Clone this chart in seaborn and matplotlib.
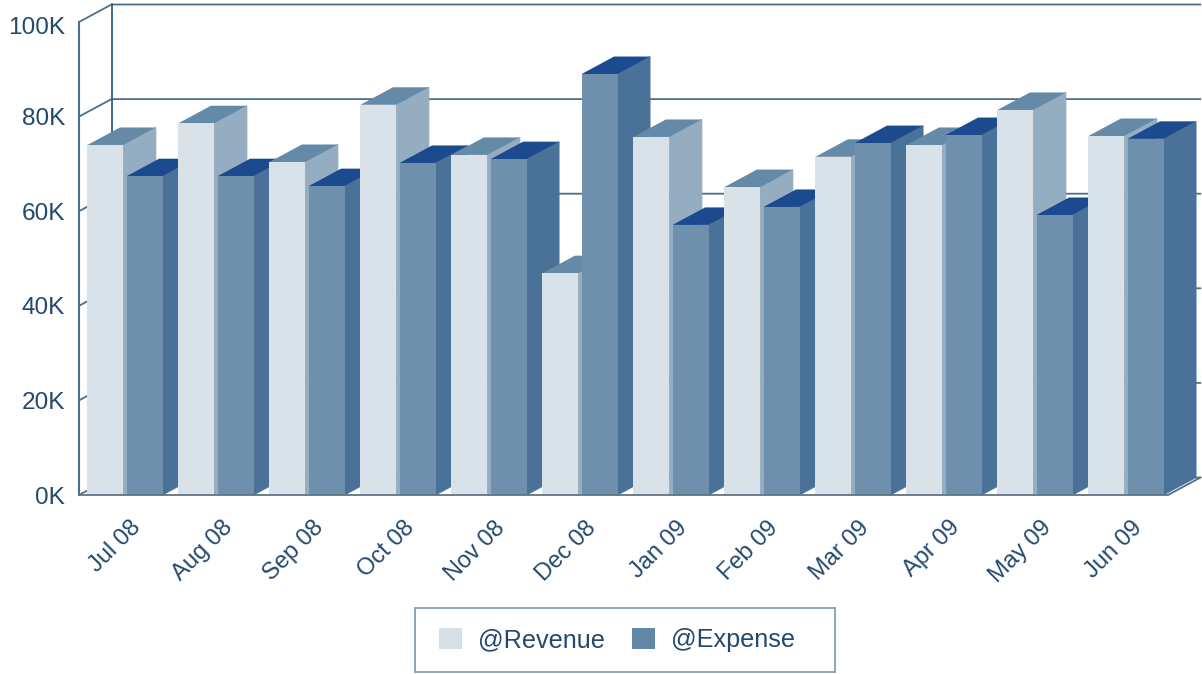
import pandas as pd
import matplotlib
matplotlib.use('Agg')
import matplotlib.pyplot as plt
from matplotlib.patches import Polygon, Rectangle
from matplotlib.transforms import ScaledTranslation
import seaborn as sns

# --- Data ---
months = ['Jul 08', 'Aug 08', 'Sep 08', 'Oct 08', 'Nov 08', 'Dec 08',
          'Jan 09', 'Feb 09', 'Mar 09', 'Apr 09', 'May 09', 'Jun 09']
revenue = [74000, 78600, 70400, 82500, 71900, 46900,
           75700, 65100, 71500, 74000, 81400, 75900]
expense = [67400, 67400, 65300, 70200, 71000, 89000,
           57100, 60900, 74400, 76100, 59200, 75300]
y_ticks = [0, 20000, 40000, 60000, 80000, 100000]
y_labels = ['0K', '20K', '40K', '60K', '80K', '100K']

# --- Style ---
TEXT = '#24496d'
WALL = '#4a6f8f'
REV_COLORS = {'front': '#d9e2e9', 'side': '#95adc0', 'top': '#648aa8'}
EXP_COLORS = {'front': '#6f90ad', 'side': '#4a7298', 'top': '#1c4a8f'}
W, H = 1202, 674
PX_PER_CAT = 91.0
PX_PER_VAL = 473.0 / 100000
DEPTH_X = 32.5 / PX_PER_CAT
DEPTH_Y = 17.5 / PX_PER_VAL

sns.set_theme(style='white')
plt.rcParams['font.family'] = ['Liberation Sans', 'DejaVu Sans']

df = pd.DataFrame({'month': months, '@Revenue': revenue, '@Expense': expense})
long_df = df.melt(id_vars='month', var_name='series', value_name='value')

fig = plt.figure(figsize=(W / 100, H / 100), dpi=100)
# plot box goes from the front floor corner to the 100K tick
ax = fig.add_axes([79 / W, 1 - 495 / H, (1168 - 79) / W, 473 / H])
sns.barplot(data=long_df, x='month', y='value', hue='series', ax=ax,
            palette={'@Revenue': REV_COLORS['front'], '@Expense': EXP_COLORS['front']},
            width=0.86, gap=0.08, saturation=1, errorbar=None, linewidth=0)

x0 = -(125 - 79) / PX_PER_CAT
ax.set_xlim(x0, x0 + (1168 - 79) / PX_PER_CAT)
ax.set_ylim(0, 100000)
sns.despine(ax=ax, left=True, bottom=True, top=True, right=True)
ax.set_xlabel('')
ax.set_ylabel('')

# --- Walls and floor ---
xl, xr = ax.get_xlim()
for v in y_ticks:
    ax.plot([xl, xl + DEPTH_X, xr + DEPTH_X], [v, v + DEPTH_Y, v + DEPTH_Y],
            color=WALL, lw=1.3, clip_on=False, zorder=1)
ax.plot([xl, xl], [0, 100000], color=WALL, lw=1.5, clip_on=False, zorder=1)
ax.plot([xl + DEPTH_X] * 2, [DEPTH_Y, 100000 + DEPTH_Y], color='#2f5f86', lw=1.3,
        clip_on=False, zorder=1)
ax.plot([xr, xr + DEPTH_X], [0, DEPTH_Y], color=WALL, lw=1.3, clip_on=False, zorder=1)

# --- Extrude the bars, left to right so later bars cover earlier sides ---
for hue_idx, (bars, colors) in enumerate(zip(ax.containers, [REV_COLORS, EXP_COLORS])):
    for i, bar in enumerate(bars):
        left, right, top = bar.get_x(), bar.get_x() + bar.get_width(), bar.get_height()
        z = 3 + i * 2 + hue_idx
        # thin edge on the side face so the wall lines don't leak through the seams
        side = Polygon([(right, 0), (right + DEPTH_X, DEPTH_Y),
                        (right + DEPTH_X, top + DEPTH_Y), (right, top)],
                       fc=colors['side'], ec=colors['side'], lw=0.6, clip_on=False, zorder=z)
        roof = Polygon([(left, top), (left + DEPTH_X, top + DEPTH_Y),
                        (right + DEPTH_X, top + DEPTH_Y), (right, top)],
                       fc=colors['top'], lw=0, clip_on=False, zorder=z)
        ax.add_patch(side)
        ax.add_patch(roof)
        bar.set_zorder(z + 0.5)

ax.plot([xl, xr], [0, 0], color='#5f7486', lw=1.3, clip_on=False, zorder=40)

# --- Axes text ---
ax.set_yticks(y_ticks, y_labels)
ax.tick_params(axis='y', length=0, pad=10, labelsize=17.6, labelcolor=TEXT)
ax.tick_params(axis='x', length=0, pad=12, labelsize=17, labelcolor=TEXT, rotation=45)
# the 100K label sits a bit lower than its tick in the original
top_lab = ax.get_yticklabels()[-1]
top_lab.set_transform(top_lab.get_transform() + ScaledTranslation(0, -4 / 100, fig.dpi_scale_trans))
shift = ScaledTranslation(5 / 100, -5 / 100, fig.dpi_scale_trans)
for lab in ax.get_xticklabels():
    lab.set_ha('right')
    lab.set_rotation_mode('anchor')
    lab.set_transform(lab.get_transform() + shift)

# --- Legend ---
handles, labels = ax.get_legend_handles_labels()
leg = ax.legend(handles, labels, loc='center', bbox_to_anchor=(617 / W, 1 - 640 / H),
                bbox_transform=fig.transFigure, ncol=2, frameon=False,
                fontsize=18.2, labelcolor=TEXT,
                handlelength=0.88, handleheight=0.88, handletextpad=0.63,
                columnspacing=1.1, borderpad=0, borderaxespad=0)
leg.legend_handles[0].set_facecolor('#d5dfe6')
leg.legend_handles[1].set_facecolor('#6288a8')
fig.add_artist(Rectangle((415 / W, 1 - 672 / H), 420 / W, 64 / H, transform=fig.transFigure,
                         fc='none', ec='#7f93a5', lw=1.2))

plt.savefig('out.png', dpi=100)
